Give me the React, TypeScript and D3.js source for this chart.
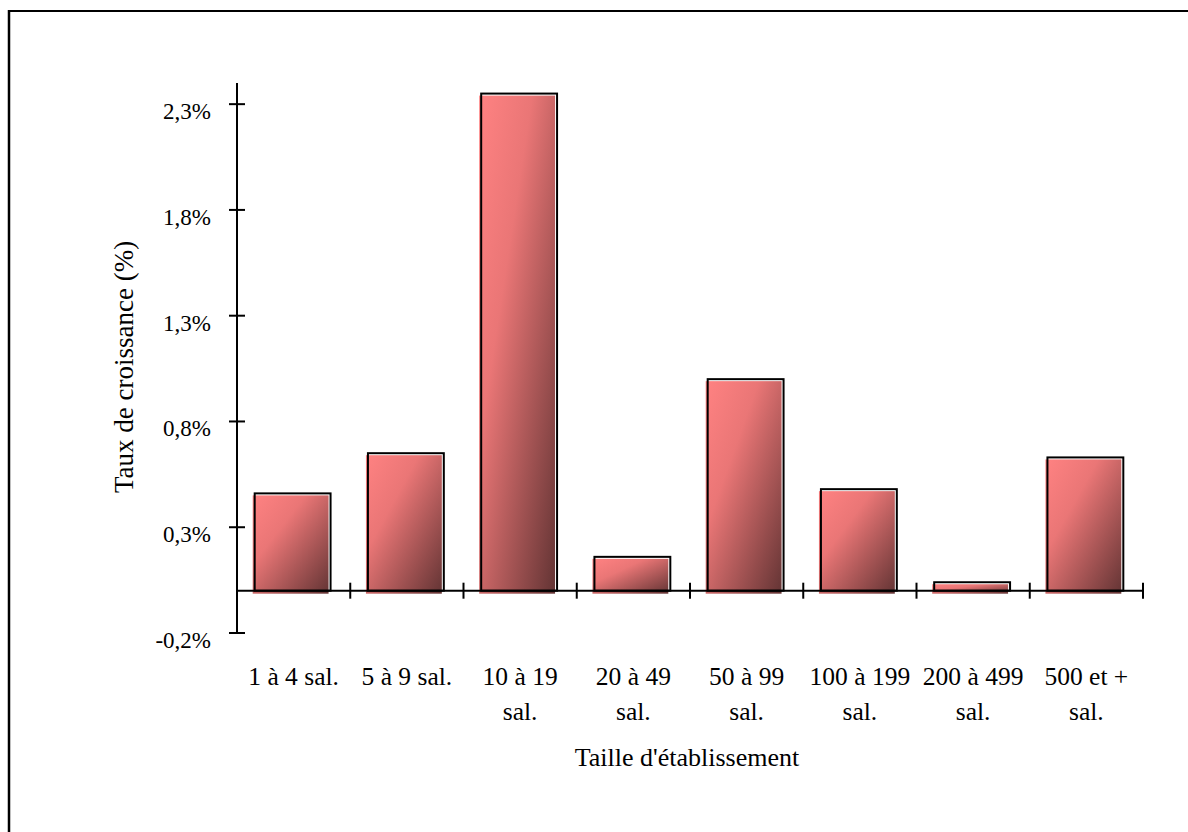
import React from "react";
import * as d3 from "d3";

const categories: string[][] = [
  ["1 à 4 sal."],
  ["5 à 9 sal."],
  ["10 à 19", "sal."],
  ["20 à 49", "sal."],
  ["50 à 99", "sal."],
  ["100 à 199", "sal."],
  ["200 à 499", "sal."],
  ["500 et +", "sal."],
];
const values: number[] = [0.46, 0.65, 2.35, 0.16, 1.0, 0.48, 0.04, 0.63];
const yTicks: number[] = [-0.2, 0.3, 0.8, 1.3, 1.8, 2.3];
const yTitle = "Taux de croissance (%)";
const xTitle = "Taille d'établissement";

const W = 1188;
const H = 832;
const FONT = "'Liberation Serif', 'Times New Roman', serif";

export default function App() {
  const idx = categories.map((_, i) => String(i));
  const xCat = d3.scaleBand<string>().domain(idx).range([237, 1143]).padding(0);
  const xBar = d3
    .scaleBand<string>()
    .domain(idx)
    .range([237, 1143])
    .paddingInner(0.33)
    .paddingOuter(0.165);
  const y = d3.scaleLinear().domain([-0.2, 2.4]).range([633, 83]);
  const y0 = y(0);
  const fmt = (v: number) => v.toFixed(1).replace(".", ",") + "%";
  const boundaries = idx.map((d) => (xCat(d) as number) + xCat.bandwidth());

  return (
    <div style={{ position: "absolute", left: 0, top: 0 }}>
      <svg width={W} height={H} style={{ display: "block", background: "#fff" }}>
        <defs>
          <linearGradient id="barGrad" x1="0" y1="0" x2="1" y2="1">
            <stop offset="0%" stopColor="#ff8282" />
            <stop offset="35%" stopColor="#ea7676" />
            <stop offset="100%" stopColor="#633434" />
          </linearGradient>
        </defs>
        {/* frame */}
        <line x1={8} x2={W} y1={11} y2={11} stroke="#000" strokeWidth={2} />
        <line x1={9} x2={9} y1={10} y2={H} stroke="#000" strokeWidth={2.5} />

        {/* bars */}
        {values.map((v, i) => {
          const bx = (xBar(String(i)) as number) - 1;
          const bw = xBar.bandwidth();
          const top = y(Math.max(v, 0));
          return (
            <g key={i}>
              <rect
                x={bx - 2}
                y={top + 2}
                width={bw}
                height={y0 + 3 - (top + 2)}
                fill="url(#barGrad)"
              />
              <rect
                x={bx}
                y={top}
                width={bw}
                height={y0 - top}
                fill="none"
                stroke="#000"
                strokeWidth={2}
              />
            </g>
          );
        })}

        {/* y axis */}
        <line x1={237} x2={237} y1={83} y2={633} stroke="#000" strokeWidth={2} />
        {yTicks.map((t) => (
          <g key={t}>
            <line x1={229} x2={245} y1={y(t)} y2={y(t)} stroke="#000" strokeWidth={2} />
            <text
              x={211}
              y={y(t) + 15}
              textAnchor="end"
              fontFamily={FONT}
              fontSize={23}
              fill="#000"
            >
              {fmt(t)}
            </text>
          </g>
        ))}

        {/* x axis */}
        <line x1={237} x2={1143} y1={y0} y2={y0} stroke="#000" strokeWidth={2} />
        {boundaries.map((b, i) => (
          <line key={i} x1={b} x2={b} y1={y0 - 8} y2={y0 + 8} stroke="#000" strokeWidth={2} />
        ))}
        {categories.map((lines, i) => {
          const cx = (xCat(String(i)) as number) + xCat.bandwidth() / 2;
          return (
            <text key={i} textAnchor="middle" fontFamily={FONT} fontSize={25.5} fill="#000">
              {lines.map((l, j) => (
                <tspan key={j} x={cx} y={685 + j * 35}>
                  {l}
                </tspan>
              ))}
            </text>
          );
        })}

        {/* titles */}
        <text
          x={687}
          y={766}
          textAnchor="middle"
          fontFamily={FONT}
          fontSize={26}
          fill="#000"
        >
          {xTitle}
        </text>
        <text
          transform="translate(133,493) rotate(-90)"
          textAnchor="start"
          fontFamily={FONT}
          fontSize={27}
          fill="#000"
        >
          {yTitle}
        </text>
      </svg>
    </div>
  );
}
